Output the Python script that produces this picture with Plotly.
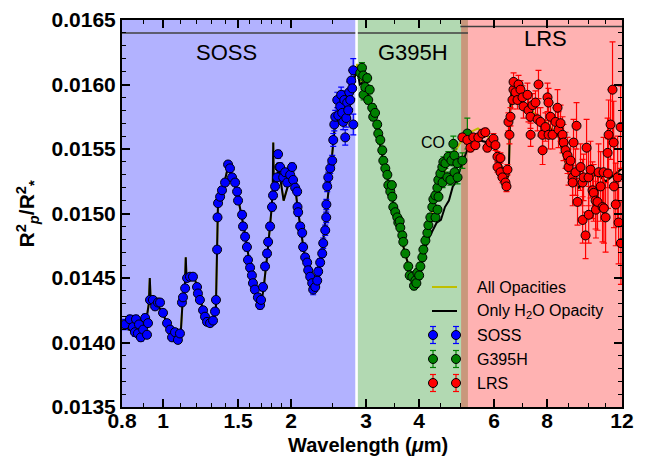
import numpy as np
import plotly.graph_objects as go

# ---------------- data ----------------
soss_wl = [0.813,0.835,0.849,0.858,0.863,0.872,0.877,0.886,0.897,0.907,
           0.916,0.921,0.931,0.946,0.957,0.972,0.983,0.999,1.021,1.038,
           1.049,1.066,1.083,1.095,1.107,1.113,1.126,1.138,1.156,1.175,
           1.201,1.207,1.220,1.241,1.254,1.268,1.289,1.310,1.324,1.331,
           1.339,1.342,1.346,1.361,1.375,1.398,1.421,1.436,1.452,1.476,
           1.492,1.500,1.533,1.541,1.558,1.574,1.583,1.601,1.617,1.626,
           1.643,1.670,1.690,1.699,1.717,1.736,1.755,1.765,1.784,1.803,
           1.813,1.833,1.853,1.863,1.875,1.884,1.915,1.936,1.957,1.989,
           2.010,2.021,2.043,2.066,2.070,2.077,2.100,2.123,2.134,2.157,
           2.181,2.193,2.217,2.241,2.253,2.278,2.303,2.315,2.340,2.366,
           2.379,2.405,2.418,2.420,2.431,2.445,2.471,2.498,2.512,2.526,
           2.539,2.567,2.581,2.608,2.622,2.637,2.651,2.666,2.680,2.695,
           2.709,2.724,2.739,2.754,2.769,2.784,2.799,2.800]
soss_depth = [0.01414,0.01418,0.01412,0.01408,0.01418,0.01407,0.01414,0.01404,0.01410,0.01419,
              0.01406,0.01415,0.01433,0.01433,0.01428,0.01431,0.01431,0.01423,0.01415,0.01410,
              0.01404,0.01408,0.01402,0.01407,0.01431,0.01435,0.01442,0.01450,0.01451,0.01451,
              0.01443,0.01438,0.01433,0.01425,0.01420,0.01416,0.01415,0.01417,0.01424,0.01433,
              0.01472,0.01497,0.01508,0.01513,0.01518,0.01524,0.01538,0.01535,0.01528,0.01524,
              0.01517,0.01510,0.01499,0.01490,0.01482,0.01474,0.01464,0.01458,0.01452,0.01446,
              0.01441,0.01435,0.01429,0.01433,0.01443,0.01459,0.01469,0.01478,0.01490,0.01505,
              0.01514,0.01521,0.01528,0.01546,0.01536,0.01536,0.01528,0.01532,0.01524,0.01530,
              0.01536,0.01526,0.01520,0.01517,0.01505,0.01501,0.01490,0.01485,0.01474,0.01466,
              0.01462,0.01456,0.01451,0.01446,0.01441,0.01443,0.01448,0.01455,0.01462,0.01469,
              0.01477,0.01487,0.01497,0.01507,0.01521,0.01528,0.01535,0.01541,0.01557,0.01569,
              0.01575,0.01588,0.01576,0.01583,0.01592,0.01578,0.01571,0.01588,0.01559,0.01574,
              0.01586,0.01580,0.01594,0.01588,0.01603,0.01597,0.01611,0.01569]
soss_err = [0.00004,0.00003,0.00003,0.00003,0.00003,0.00003,0.00003,0.00003,0.00003,0.00003,
            0.000025,0.000025,0.000025,0.000025,0.000025,0.000025,0.000025,0.000025,0.000025,0.000025,
            0.000025,0.000025,0.000025,0.000025,0.000025,0.000025,0.000025,0.000025,0.000025,0.000025,
            0.000025,0.000025,0.000025,0.000025,0.000025,0.000025,0.000025,0.000025,0.000025,0.000025,
            0.000025,0.000025,0.000025,0.000025,0.000025,0.000025,0.000025,0.000025,0.000025,0.000025,
            0.00003,0.00003,0.00003,0.00003,0.00003,0.00003,0.00003,0.00003,0.00003,0.00003,
            0.00003,0.00003,0.00003,0.00003,0.00003,0.00003,0.00003,0.00003,0.00003,0.00003,
            0.00003,0.00003,0.00003,0.00003,0.00003,0.00003,0.00003,0.00003,0.00003,0.00003,
            0.00003,0.00003,0.00003,0.00003,0.00003,0.00003,0.00003,0.00003,0.00003,0.00003,
            0.00003,0.00003,0.00003,0.00003,0.00004,0.00003,0.00003,0.00003,0.00003,0.00003,
            0.00004,0.00004,0.00004,0.00004,0.00004,0.00004,0.00004,0.00004,0.00005,0.00005,
            0.00005,0.00006,0.00005,0.00006,0.00006,0.00006,0.00006,0.00007,0.00006,0.00007,
            0.00007,0.00007,0.00008,0.00007,0.00008,0.00008,0.00009,0.00008]

g395h_wl = [2.907,2.935,2.955,2.960,2.987,3.019,3.036,3.060,3.102,3.119,
            3.150,3.187,3.205,3.241,3.276,3.294,3.330,3.367,3.385,3.421,
            3.450,3.458,3.477,3.515,3.553,3.573,3.600,3.612,3.651,3.671,
            3.711,3.771,3.800,3.855,3.890,3.918,3.940,3.961,4.000,4.026,
            4.070,4.092,4.137,4.182,4.205,4.250,4.296,4.320,4.367,4.370,
            4.414,4.418,4.438,4.442,4.487,4.535,4.540,4.560,4.610,4.660,
            4.685,4.737,4.763,4.814,4.840,4.845,4.919,4.925,5.055,5.193]
g395h_depth = [0.01609,0.01613,0.01607,0.01592,0.01598,0.01605,0.01588,0.01596,0.01582,0.01575,
               0.01578,0.01569,0.01562,0.01557,0.01549,0.01541,0.01535,0.01530,0.01522,0.01517,
               0.01522,0.01513,0.01505,0.01501,0.01497,0.01493,0.01494,0.01489,0.01483,0.01478,
               0.01469,0.01459,0.01452,0.01451,0.01444,0.01448,0.01446,0.01454,0.01452,0.01459,
               0.01466,0.01472,0.01479,0.01485,0.01491,0.01497,0.01505,0.01511,0.01514,0.01497,
               0.01520,0.01503,0.01526,0.01513,0.01531,0.01536,0.01524,0.01540,0.01539,0.01528,
               0.01544,0.01526,0.01541,0.01554,0.01545,0.01532,0.01539,0.01528,0.01541,0.01562]
g395h_err = [0.00004,0.00004,0.00004,0.00004,0.00003,0.00003,0.00003,0.00003,0.00003,0.00003,
             0.00003,0.00003,0.00003,0.00003,0.00003,0.00003,0.00003,0.00003,0.00003,0.00003,
             0.00003,0.00003,0.00003,0.00003,0.00003,0.00003,0.00003,0.00003,0.00003,0.00003,
             0.00003,0.00003,0.00003,0.00003,0.00003,0.00003,0.00003,0.00003,0.00003,0.00003,
             0.00003,0.00003,0.00003,0.00003,0.00003,0.00003,0.00003,0.00003,0.00003,0.00003,
             0.00003,0.00003,0.00003,0.00003,0.00003,0.00004,0.00004,0.00004,0.00004,0.00004,
             0.00004,0.00004,0.00004,0.00006,0.00005,0.00005,0.00005,0.00005,0.00006,0.00012]

lrs_wl = [5.055,5.193,5.280,5.364,5.423,5.511,5.632,5.724,5.787,5.885,
          5.981,6.046,6.112,6.115,6.213,6.215,6.281,6.383,6.418,6.453,
          6.488,6.523,6.559,6.631,6.667,6.670,6.740,6.814,6.851,6.924,
          7.000,7.038,7.192,7.232,7.310,7.315,7.390,7.511,7.593,7.634,
          7.718,7.802,7.805,7.929,8.016,8.059,8.062,8.148,8.237,8.372,
          8.463,8.509,8.602,8.696,8.743,8.838,8.935,8.983,9.081,9.180,
          9.185,9.229,9.330,9.380,9.431,9.588,9.692,9.695,9.745,9.851,
          9.905,10.01,10.02,10.12,10.23,10.29,10.40,10.42,10.51,10.57,
          10.69,10.80,10.86,10.88,10.98,11.10,11.12,11.16,11.28,11.40,
          11.47,11.49,11.60,11.72,11.78,11.91,11.93]
lrs_depth = [0.01559,0.01557,0.01551,0.01559,0.01553,0.01559,0.01562,0.01563,0.01551,0.01555,
             0.01558,0.01553,0.01544,0.01536,0.01543,0.01532,0.01528,0.01524,0.01521,0.01534,
             0.01571,0.01561,0.01575,0.01588,0.01596,0.01602,0.01594,0.01588,0.01600,0.01596,
             0.01590,0.01583,0.01592,0.01580,0.01575,0.01561,0.01584,0.01586,0.01573,0.01600,
             0.01571,0.01561,0.01549,0.01567,0.01590,0.01586,0.01561,0.01575,0.01561,0.01571,
             0.01582,0.01565,0.01570,0.01561,0.01555,0.01549,0.01545,0.01536,0.01541,0.01528,
             0.01524,0.01555,0.01532,0.01568,0.01509,0.01536,0.01524,0.01495,0.01528,0.01483,
             0.01551,0.01528,0.01499,0.01534,0.01518,0.01516,0.01510,0.01503,0.01509,0.01532,
             0.01521,0.01505,0.01532,0.01504,0.01497,0.01547,0.01531,0.01561,0.01569,0.01596,
             0.01555,0.01521,0.01507,0.01528,0.01493,0.01567,0.01477]
lrs_err = [0.00003,0.00003,0.00003,0.00003,0.00003,0.00003,0.00003,0.00003,0.00003,0.00003,
           0.00004,0.00004,0.00004,0.00004,0.00004,0.00004,0.00004,0.00004,0.00004,0.00004,
           0.00007,0.00007,0.00007,0.00007,0.00007,0.00007,0.00007,0.00007,0.00007,0.00007,
           0.00009,0.00009,0.00009,0.00009,0.00009,0.00009,0.00009,0.00009,0.00009,0.00011,
           0.00011,0.00011,0.00011,0.00011,0.00011,0.00011,0.00011,0.00011,0.00011,0.00011,
           0.00014,0.00014,0.00014,0.00014,0.00014,0.00014,0.00014,0.00014,0.00014,0.00014,
           0.00018,0.00018,0.00018,0.00018,0.00018,0.00018,0.00018,0.00018,0.00018,0.00018,
           0.00022,0.00022,0.00022,0.00022,0.00022,0.00022,0.00022,0.00022,0.00022,0.00022,
           0.00027,0.00027,0.00027,0.00027,0.00027,0.00027,0.00027,0.00027,0.00027,0.00037,
           0.00032,0.00032,0.00032,0.00032,0.00032,0.00032,0.00032]

model_wl = [0.80,0.83,0.86,0.89,0.915,0.925,0.93,0.935,0.96,0.99,
            1.02,1.05,1.08,1.10,1.11,1.125,1.13,1.135,1.16,1.19,
            1.22,1.25,1.28,1.31,1.33,1.34,1.345,1.38,1.42,1.45,
            1.50,1.55,1.60,1.65,1.69,1.72,1.76,1.80,1.81,1.815,
            1.82,1.83,1.87,1.92,1.96,2.00,2.04,2.08,2.15,2.20,
            2.25,2.30,2.36,2.42,2.48,2.54,2.60,2.66,2.72,2.78,
            2.82,2.86,2.90,2.95,3.00,3.10,3.30,3.50,3.70,3.85,
            3.95,4.05,4.20,4.40,4.50,4.60,4.70,4.80,4.90,5.00,
            5.20,5.50,5.80,6.00,6.20,6.40,6.50,6.55,6.62,6.70,
            7.00,7.50,8.00,8.50,9.00,9.50,10.0,10.5,11.0,11.5,
            12.0]
model_h2o = [0.01412,0.01410,0.01408,0.01410,0.01420,0.01430,0.01450,0.01430,0.01430,0.01425,
             0.01415,0.01406,0.01403,0.01408,0.01430,0.01445,0.01466,0.01448,0.01451,0.01448,
             0.01434,0.01422,0.01416,0.01415,0.01425,0.01470,0.01505,0.01518,0.01536,0.01530,
             0.01512,0.01488,0.01460,0.01440,0.01428,0.01440,0.01470,0.01505,0.01520,0.01555,
             0.01522,0.01522,0.01535,0.01510,0.01520,0.01530,0.01522,0.01500,0.01468,0.01452,
             0.01440,0.01446,0.01468,0.01500,0.01535,0.01572,0.01585,0.01570,0.01585,0.01598,
             0.01605,0.01612,0.01600,0.01602,0.01598,0.01582,0.01540,0.01503,0.01470,0.01450,
             0.01452,0.01462,0.01480,0.01493,0.01495,0.01505,0.01510,0.01521,0.01525,0.01535,
             0.01550,0.01557,0.01555,0.01552,0.01540,0.01525,0.01530,0.01580,0.01602,0.01595,
             0.01585,0.01575,0.01568,0.01560,0.01530,0.01520,0.01528,0.01530,0.01525,0.01530,
             0.01535]
model_all = [0.01412,0.01410,0.01408,0.01410,0.01420,0.01430,0.01450,0.01430,0.01430,0.01425,
             0.01415,0.01406,0.01403,0.01408,0.01430,0.01445,0.01466,0.01448,0.01451,0.01448,
             0.01434,0.01422,0.01416,0.01415,0.01425,0.01470,0.01505,0.01518,0.01536,0.01530,
             0.01512,0.01488,0.01460,0.01440,0.01428,0.01440,0.01470,0.01505,0.01520,0.01555,
             0.01522,0.01522,0.01535,0.01510,0.01520,0.01530,0.01522,0.01500,0.01468,0.01452,
             0.01440,0.01446,0.01468,0.01500,0.01535,0.01572,0.01585,0.01570,0.01585,0.01598,
             0.01607,0.01616,0.01603,0.01602,0.01598,0.01582,0.01540,0.01503,0.01470,0.01450,
             0.01452,0.01465,0.01490,0.01515,0.01525,0.01533,0.01540,0.01545,0.01550,0.01555,
             0.01562,0.01566,0.01560,0.01553,0.01540,0.01525,0.01530,0.01580,0.01602,0.01595,
             0.01585,0.01577,0.01570,0.01560,0.01530,0.01520,0.01528,0.01530,0.01525,0.01530,
             0.01535]

instruments = ["SOSS", "G395H", "LRS"]
inst_ranges = [(0.8, 2.83), (2.87, 5.21), (5.02, 12.0)]
inst_line_level = [0.0164, 0.0164, 0.01645]
inst_line_ranges = [(0.8, 2.83), (2.87, 5.21), (5.0, 12.0)]
inst_label_pos = [(1.41, 0.01625), (3.87, 0.01625), (7.91, 0.01636)]

xtick_vals = [0.8, 1, 1.5, 2, 3, 4, 6, 8, 12]
xtick_text = ["0.8", "1", "1.5", "2", "3", "4", "6", "8", "12"]
x_minor = [0.9, 1.1, 1.2, 1.3, 1.4, 1.6, 1.7, 1.8, 1.9, 2.5, 3.5, 4.5, 5, 7, 9, 10, 11]
ytick_vals = [0.0135, 0.0140, 0.0145, 0.0150, 0.0155, 0.0160, 0.0165]
ytick_text = ["0.0135", "0.0140", "0.0145", "0.0150", "0.0155", "0.0160", "0.0165"]

# ---------------- styling ----------------
BLUE, GREEN, RED, YELLOW = "#0000ff", "#008000", "#ff0000", "#bfbf00"
fills = ["rgba(0,0,255,0.30)", "rgba(0,128,0,0.30)", "rgba(255,0,0,0.30)"]
FONT = "Liberation Sans"

W, H = 646, 459
ML, MR, MT, MB = 122, 24, 20, 52
PW, PH = W - ML - MR, H - MT - MB


def px(xp):
    return (xp - ML) / PW


def py(yp):
    return (H - MB - yp) / PH


fig = go.Figure()

fig.add_trace(go.Scatter(x=model_wl, y=model_all, mode="lines",
                         line=dict(color=YELLOW, width=2), showlegend=False, hoverinfo="skip"))
fig.add_trace(go.Scatter(x=model_wl, y=model_h2o, mode="lines",
                         line=dict(color="black", width=2), showlegend=False, hoverinfo="skip"))

for wl, d, e, col in [(soss_wl, soss_depth, soss_err, BLUE),
                      (g395h_wl, g395h_depth, g395h_err, GREEN),
                      (lrs_wl, lrs_depth, lrs_err, RED)]:
    fig.add_trace(go.Scatter(
        x=wl, y=d, mode="markers",
        marker=dict(size=9, color=col, line=dict(color="black", width=1)),
        error_y=dict(type="data", array=e, color=col, thickness=1.2, width=3),
        showlegend=False))

shapes = []
for (a, b), fc in zip(inst_ranges, fills):
    shapes.append(dict(type="rect", xref="x", yref="paper", x0=a, x1=b, y0=0, y1=1,
                       fillcolor=fc, line=dict(width=0), layer="below"))
for (a, b), lev in zip(inst_line_ranges, inst_line_level):
    shapes.append(dict(type="line", xref="x", yref="y", x0=a, x1=b, y0=lev, y1=lev,
                       line=dict(color="#404040", width=1.5), layer="below"))

annotations = []
for name, (lx, ly) in zip(instruments, inst_label_pos):
    annotations.append(dict(x=np.log10(lx), y=ly, xref="x", yref="y", text=name,
                            showarrow=False, font=dict(family=FONT, size=22, color="black"),
                            xanchor="center", yanchor="middle"))
annotations.append(dict(x=np.log10(4.3), y=0.015547, xref="x", yref="y", text="CO",
                        showarrow=False, font=dict(family=FONT, size=16, color="black"),
                        xanchor="center", yanchor="middle"))

# custom legend (two markers per entry, like the original)
leg_labels = ["All Opacities", "Only H<sub>2</sub>O Opacity", "SOSS", "G395H", "LRS"]
leg_kind = ["line", "line", "pt", "pt", "pt"]
leg_cols = [YELLOW, "black", BLUE, GREEN, RED]
leg_y = [287, 311, 335, 359, 383]
for lab, kind, col, yy in zip(leg_labels, leg_kind, leg_cols, leg_y):
    if kind == "line":
        shapes.append(dict(type="line", xref="paper", yref="paper",
                           x0=px(432), x1=px(457), y0=py(yy), y1=py(yy),
                           line=dict(color=col, width=2)))
    else:
        for cx in (433, 456):
            shapes.append(dict(type="line", xref="paper", yref="paper",
                               x0=px(cx), x1=px(cx), y0=py(yy - 8.5), y1=py(yy + 8.5),
                               line=dict(color=col, width=1.2)))
            for ey in (yy - 8.5, yy + 8.5):
                shapes.append(dict(type="line", xref="paper", yref="paper",
                                   x0=px(cx - 3), x1=px(cx + 3), y0=py(ey), y1=py(ey),
                                   line=dict(color=col, width=1.2)))
            shapes.append(dict(type="circle", xref="paper", yref="paper",
                               x0=px(cx - 4.5), x1=px(cx + 4.5), y0=py(yy - 4.5), y1=py(yy + 4.5),
                               fillcolor=col, line=dict(color="black", width=1)))
    annotations.append(dict(x=px(475), y=py(yy), xref="paper", yref="paper", text=lab,
                            showarrow=False, xanchor="left", yanchor="middle",
                            font=dict(family=FONT, size=16, color="black")))

# axis titles
annotations.append(dict(x=px(368), y=py(445), xref="paper", yref="paper",
                        text="Wavelength (<i>\u03bc</i>m)", showarrow=False,
                        xanchor="center", yanchor="middle",
                        font=dict(family=FONT, size=20, color="black", weight="bold")))
annotations.append(dict(x=px(27), y=0.5, xref="paper", yref="paper",
                        text="R<sup>2</sup><sub><i>p</i></sub>/R<sup>2</sup><sub>*</sub>",
                        showarrow=False, textangle=-90, xanchor="center", yanchor="middle",
                        font=dict(family=FONT, size=21, color="black", weight="bold")))

axis_common = dict(ticks="inside", tickcolor="black", tickwidth=1.5, ticklen=8,
                   mirror="allticks", showline=True, linewidth=2, linecolor="black",
                   showgrid=False, zeroline=False, automargin=False,
                   tickfont=dict(family=FONT, size=21, color="black", weight="bold"))

fig.update_layout(
    width=W, height=H, autosize=False,
    margin=dict(l=ML, r=MR, t=MT, b=MB, pad=0),
    paper_bgcolor="white", plot_bgcolor="white",
    font=dict(family=FONT, color="black"),
    showlegend=False,
    xaxis=dict(type="log", range=[np.log10(0.8), np.log10(12)],
               tickmode="array", tickvals=xtick_vals, ticktext=xtick_text,
               ticklabelstandoff=-6,
               minor=dict(tickmode="array", tickvals=x_minor, ticks="inside",
                          ticklen=4, tickwidth=1.2, tickcolor="black", showgrid=False),
               **axis_common),
    yaxis=dict(range=[0.0135, 0.0165], tickmode="array", tickvals=ytick_vals, ticktext=ytick_text,
               minor=dict(dtick=0.0001, ticks="inside", ticklen=4, tickwidth=1.2,
                          tickcolor="black", showgrid=False),
               **axis_common),
    shapes=shapes, annotations=annotations,
)

fig.write_html("out.html", config={"displayModeBar": False},
               post_script="document.body.style.margin='0px';")
